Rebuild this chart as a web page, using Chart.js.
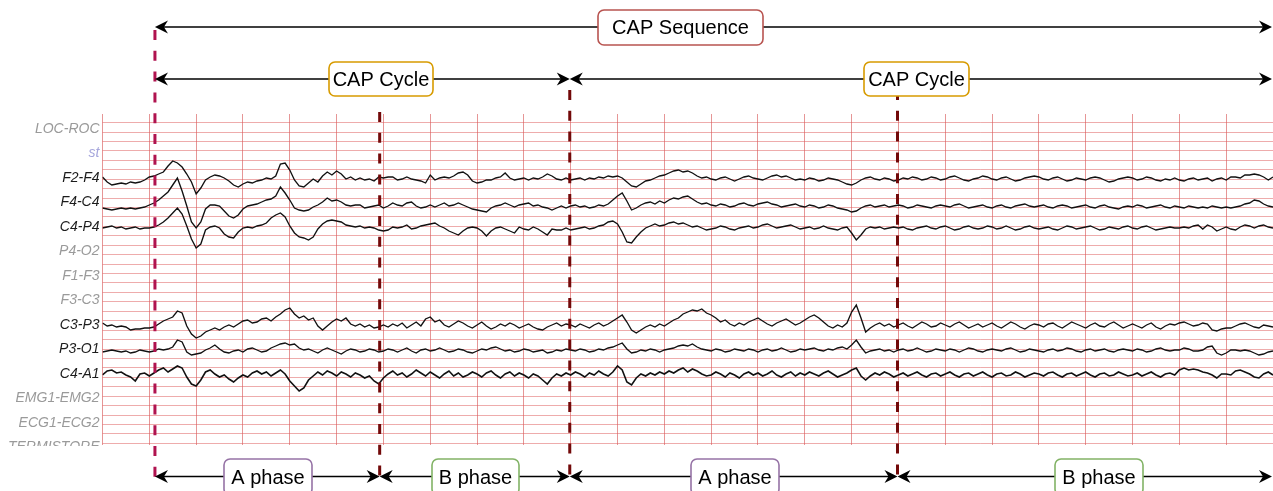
<!DOCTYPE html>
<html>
<head>
<meta charset="utf-8">
<title>CAP sequence</title>
<script src="https://cdn.jsdelivr.net/npm/chart.js@4.4.1/dist/chart.umd.min.js"></script>
<style>
  html, body { margin: 0; padding: 0; background: #fff; }
  #wrap { width: 1273px; height: 491px; position: relative; }
</style>
</head>
<body>
<div id="wrap"><canvas id="eegChart"></canvas></div>
<script>
// montage, top to bottom
const channels = ['LOC-ROC', 'st', 'F2-F4', 'F4-C4', 'C4-P4', 'P4-O2', 'F1-F3', 'F3-C3',
  'C3-P3', 'P3-O1', 'C4-A1', 'EMG1-EMG2', 'ECG1-ECG2', 'TERMISTORE'];
const activeChannels = ['F2-F4', 'F4-C4', 'C4-P4', 'C3-P3', 'P3-O1', 'C4-A1'];

const sampleStep = 0.1;     // s between samples
const rowSpacing = 245;     // µV between channel baselines
const pageSeconds = 25;

// deflection from baseline, µV, one sample every 0.1 s
const f2f4 = [
  10,-40,-70,-60,-50,-60,-40,-50,-40,-20,
  10,20,40,60,120,170,150,110,40,-40,
  -160,-100,-20,10,30,20,0,-30,-70,-90,
  -60,-40,-50,-30,-20,0,-10,20,140,150,
  80,-20,-80,-90,-50,-10,-40,20,60,30,
  70,40,-10,10,-20,0,-20,-10,-30,10,
  0,10,10,-20,-10,10,-10,-20,-30,-50,
  30,-20,0,10,0,20,50,60,30,-30,
  -50,-40,-20,-20,0,10,50,0,-20,-10,
  0,-20,0,-10,10,40,20,-10,-20,0,
  -20,-10,0,-20,0,-10,10,0,20,10,
  20,0,-40,-80,-90,-60,-30,-20,0,20,
  30,50,70,80,60,70,50,20,0,10,
  -10,-20,0,10,-10,-30,-10,10,20,0,
  -10,-20,0,20,30,10,20,0,-20,-10,
  -20,0,-10,-30,-20,0,-10,-20,-40,-60,
  -70,-50,-20,0,10,-10,-20,0,-10,-30,
  -20,0,-10,10,0,-20,-10,10,0,-20,
  -10,10,20,0,-20,-30,-10,0,20,10,
  -10,-20,0,10,-10,-30,-20,0,10,20,
  10,-10,-20,0,10,-10,-30,-20,0,-10,
  -20,0,10,0,-20,-40,-30,-10,0,10,
  0,-20,-10,10,0,-20,-30,-10,-20,0,
  -20,-30,-10,0,-20,-10,0,-30,-10,0,
  -20,10,10,0,30,30,40,30,10,-20,
  10
];
const f4c4 = [
  -55,-65,-75,-65,-55,-65,-55,-65,-55,-45,
  -25,-5,25,65,105,175,245,115,-35,-195,
  -255,-195,-65,-25,-25,-35,-85,-135,-155,-125,
  -65,-35,-25,-15,5,25,35,65,155,95,
  25,-55,-75,-85,-75,-45,-25,5,45,15,
  25,5,-25,-35,-25,-25,-55,-45,-35,-25,
  -55,-35,-5,-25,-35,-5,5,-35,-55,-45,
  -25,-45,-25,-5,-35,-25,-5,-25,-45,-65,
  -75,-85,-95,-55,-35,-25,-5,-25,-45,-25,
  -15,-5,-35,-25,-45,-55,-75,-55,-35,-55,
  -35,-25,-45,-35,-55,-45,-25,-35,-15,25,
  65,95,15,-75,-55,-25,-5,5,-15,15,
  -5,25,45,35,55,65,35,5,-15,-5,
  -25,-35,-15,-25,-45,-35,-15,-5,-25,-35,
  -15,-5,5,-15,-25,-45,-35,-25,-15,-35,
  -45,-25,-35,-55,-45,-25,-35,-55,-65,-75,
  -95,-85,-55,-35,-25,-45,-35,-25,-45,-35,
  -25,-35,-55,-45,-25,-35,-45,-55,-35,-25,
  -35,-45,-25,-15,-35,-55,-45,-35,-25,-45,
  -55,-35,-25,-45,-55,-35,-25,-15,-35,-45,
  -35,-25,-45,-55,-35,-25,-35,-55,-45,-35,
  -25,-45,-55,-35,-25,-45,-55,-65,-45,-35,
  -45,-25,-35,-55,-45,-35,-25,-45,-55,-35,
  -45,-55,-35,-45,-55,-45,-55,-35,-45,-55,
  -45,-55,-45,-35,-15,-5,25,15,-15,-35,
  -45
];
const c4p4 = [
  -10,0,10,-10,0,-20,-10,0,-20,-10,
  -10,0,20,50,90,140,190,130,10,-120,
  -210,-170,-30,0,10,-10,-70,-100,-110,-50,
  -10,0,-10,10,20,40,90,120,140,100,
  10,-60,-100,-110,-130,-100,-20,30,60,70,
  60,50,20,10,0,10,-10,0,-10,-30,
  -40,-30,0,-10,0,20,-20,-10,10,20,
  30,40,10,-10,-40,-60,-80,-40,-10,0,
  -10,-40,-90,-40,-10,0,-20,-40,-60,0,
  -20,-30,0,-20,-50,-80,-20,-30,-30,-10,
  -30,-20,-10,0,-20,-10,10,20,50,60,
  30,-50,-150,-160,-100,-50,-10,10,30,10,
  20,40,50,30,40,20,0,10,-10,-30,
  -20,-10,10,0,-20,-30,-10,0,10,-10,
  0,20,30,10,-10,0,10,20,0,-20,
  -10,0,-20,-10,10,-10,-20,-30,-10,0,
  -60,-130,-80,-20,0,-10,0,-20,-10,0,
  -10,0,-20,-30,-10,0,10,-10,-20,0,
  10,-10,-30,-20,0,10,-10,-20,-10,10,
  0,-20,-10,10,-10,-30,-20,0,10,-10,
  -20,-10,0,-20,-30,-10,10,0,-20,-10,
  0,10,-10,-30,-20,0,-10,-20,0,10,
  -10,-20,0,10,-10,-30,-20,-10,0,-10,
  -10,0,-10,10,20,-20,20,0,-40,-20,
  0,-20,-30,0,20,10,-10,10,20,0,
  -10
];
const c3p3 = [
  20,-10,0,-20,-10,-20,-50,-40,-40,-30,
  -30,-20,10,40,60,80,140,120,-10,-90,
  -130,-110,-70,-50,-30,-50,-20,0,-20,10,
  40,50,20,30,60,70,40,80,110,150,
  170,110,70,90,50,70,-10,-50,-10,30,
  60,40,70,10,-10,10,-20,0,-30,-20,
  0,-20,10,-10,20,-30,0,30,-10,60,
  80,30,50,0,-20,10,40,20,-10,-30,
  0,30,-10,-40,-20,10,-10,20,0,-30,
  -10,10,-20,-40,-50,-20,0,20,-10,10,
  0,-20,10,-10,-30,0,20,-10,10,40,
  70,100,30,-50,-80,-50,-20,0,-20,10,
  -10,20,50,70,110,130,150,140,160,120,
  100,70,30,50,10,-10,20,0,30,50,
  70,40,10,-10,20,40,60,30,0,20,
  50,80,100,70,30,-10,-30,0,-20,20,
  130,200,70,-70,-30,0,20,-10,10,-20,
  0,20,-10,-30,0,30,10,-20,-10,20,
  0,-20,10,30,0,-30,-10,10,-20,0,
  20,-10,-30,0,30,10,-20,-40,-10,10,
  0,-20,10,20,-10,-30,0,30,10,-10,
  -30,0,20,-10,-20,10,30,0,-30,-10,
  10,-10,-30,0,20,-20,-40,-10,10,0,
  20,30,10,-10,0,20,10,-50,-60,-40,
  -30,-30,-10,10,20,0,-20,-30,0,-10,
  -20
];
const p3o1 = [
  -25,-15,-5,-15,-25,-15,-35,-25,-5,-15,
  -25,-15,5,-5,5,25,95,75,-25,-55,
  -45,-35,-5,15,45,5,-25,-35,-15,-5,
  -25,5,15,-5,-25,-15,15,35,55,65,
  45,55,15,-5,5,-15,-35,-5,15,-5,
  -25,-45,-15,5,-5,-25,-15,5,-5,-25,
  -15,5,-5,-25,-5,15,-15,-35,-5,5,
  -15,-5,15,-5,-25,-15,5,-5,-25,-35,
  -15,5,-5,15,25,5,-15,-5,-25,-15,
  5,-5,-25,-15,-5,-35,-25,-5,-15,5,
  -5,-15,5,-5,-25,-15,5,-5,15,25,
  45,65,5,-35,-25,-5,-15,5,-5,-25,
  -5,5,15,35,45,35,55,25,5,-5,
  -15,5,-5,-25,-15,5,-5,-15,5,-5,
  -25,-5,5,-15,-5,15,-5,-25,-15,5,
  -5,5,15,-5,-15,5,-5,15,25,5,
  45,95,25,-35,-15,-5,5,-15,-5,-25,
  -5,5,-15,-5,15,-5,-25,-15,5,-5,
  -15,5,-5,-25,-5,15,5,-15,-25,-5,
  5,-5,-15,5,15,-5,-25,-15,5,-5,
  -15,-25,-5,5,-15,-5,15,5,-15,-25,
  -5,5,-15,-5,5,-15,-25,-5,5,-5,
  -15,5,-5,-25,-15,5,15,-5,-15,-5,
  -5,15,5,-15,-15,-5,25,35,-35,-55,
  -35,-5,-5,-15,-5,-15,-35,-55,-45,-25,
  -15
];
const c4a1 = [
  -10,30,40,10,20,-10,-30,-70,0,10,
  -20,10,40,60,20,50,80,60,-30,-100,
  -120,-60,20,40,0,-30,-10,-50,-80,-40,
  -10,-30,10,30,0,20,-20,10,40,0,
  -70,-120,-170,-140,-60,-20,20,-10,30,10,
  -20,20,0,-30,10,-10,-40,-20,-70,-100,
  -40,0,30,-10,10,-30,0,40,10,-20,
  20,-10,-40,0,30,-20,10,-30,-10,20,
  0,-30,10,30,-10,-40,0,20,-20,10,
  -10,-40,0,-20,-60,-100,-40,0,-20,10,
  -10,20,0,-30,10,-10,30,0,-20,20,
  80,40,-80,-110,-40,0,-20,10,-10,20,
  0,30,10,40,60,20,50,30,0,-20,
  -10,20,0,-30,10,-10,-40,0,20,-10,
  10,-20,0,30,-10,-30,0,20,-20,10,
  -10,20,0,-20,10,30,0,-30,-10,10,
  40,60,-20,-60,-20,10,-10,20,0,-30,
  -10,10,-20,0,20,-10,-30,0,10,-20,
  0,20,-10,-30,0,10,-20,0,20,-10,
  -30,0,10,-20,-10,20,0,-30,-10,10,
  0,-20,10,20,-10,-30,0,10,-20,0,
  20,-10,-30,0,10,-20,-10,20,0,-20,
  -10,10,-20,0,20,-10,-30,0,10,-10,
  40,60,40,50,40,20,10,-10,-40,0,
  0,-10,30,40,20,0,-30,-40,0,20,
  -10
];

// scored events (s): A1 onset, B1 onset, A2 onset, B2 onset
const markers = [1.12, 5.92, 9.98, 16.98];
const sequenceLabel = 'CAP Sequence';
const cycleLabels = ['CAP Cycle', 'CAP Cycle'];
const phaseLabels = ['A phase', 'B phase', 'A phase', 'B phase'];

const traces = [
  ['F2-F4', f2f4], ['F4-C4', f4c4], ['C4-P4', c4p4],
  ['C3-P3', c3p3], ['P3-O1', p3o1], ['C4-A1', c4a1]
];

const datasets = traces.map(([name, values]) => {
  const base = -rowSpacing * channels.indexOf(name);
  return {
    label: name,
    data: values.map((v, k) => ({ x: +(k * sampleStep).toFixed(1), y: base + v })),
    borderColor: '#111',
    borderWidth: name === 'C4-A1' ? 1.6 : 1.35,
    pointRadius: 0,
    tension: 0,
    yAxisID: 'ch'
  };
});

function arrowHead(ctx, x, y, dir) {
  ctx.beginPath();
  ctx.moveTo(x, y);
  ctx.lineTo(x - dir * 13, y - 6.5);
  ctx.lineTo(x - dir * 9, y);
  ctx.lineTo(x - dir * 13, y + 6.5);
  ctx.closePath();
  ctx.fill();
}

function span(ctx, x1, x2, y) {
  ctx.beginPath();
  ctx.moveTo(x1 + 4, y);
  ctx.lineTo(x2 - 4, y);
  ctx.stroke();
  arrowHead(ctx, x1, y, -1);
  arrowHead(ctx, x2, y, 1);
}

function labelBox(ctx, text, cx, cy, w, h, color) {
  ctx.beginPath();
  ctx.roundRect(cx - w / 2, cy - h / 2, w, h, 6);
  ctx.fillStyle = '#fff';
  ctx.fill();
  ctx.lineWidth = 1.6;
  ctx.strokeStyle = color;
  ctx.stroke();
  ctx.fillStyle = '#000';
  ctx.fillText(text, cx, cy + 1);
}

const capOverlay = {
  id: 'capOverlay',
  afterDatasetsDraw(chart) {
    const { ctx, scales: { x } } = chart;
    const tops = [30, 112, 90, 90];
    ctx.save();
    ctx.lineWidth = 3;
    ctx.setLineDash([10, 10.8]);
    markers.forEach((t, i) => {
      const px = x.getPixelForValue(t);
      ctx.strokeStyle = i === 0 ? '#b0134f' : '#720909';
      ctx.beginPath();
      ctx.moveTo(px, tops[i]);
      ctx.lineTo(px, 478);
      ctx.stroke();
    });
    ctx.restore();
  },
  afterDraw(chart) {
    const { ctx, scales: { x } } = chart;
    const m = markers.map(t => x.getPixelForValue(t));
    const end = x.getPixelForValue(pageSeconds) - 1;
    ctx.save();
    // last montage label runs off the bottom of the page
    ctx.fillStyle = '#fff';
    ctx.fillRect(0, 446, 101, 12);

    ctx.strokeStyle = '#000';
    ctx.fillStyle = '#000';
    ctx.lineWidth = 1.6;
    span(ctx, m[0], end, 27);
    span(ctx, m[0], m[2], 79);
    span(ctx, m[2], end, 79);
    span(ctx, m[0], m[1], 476.5);
    span(ctx, m[1], m[2], 476.5);
    span(ctx, m[2], m[3], 476.5);
    span(ctx, m[3], end, 476.5);

    ctx.font = '20px "Liberation Sans", Arial, sans-serif';
    ctx.textAlign = 'center';
    ctx.textBaseline = 'middle';
    labelBox(ctx, sequenceLabel, 680.5, 27.5, 165, 35, '#b85450');
    labelBox(ctx, cycleLabels[0], 381, 79, 104, 34, '#d79b00');
    labelBox(ctx, cycleLabels[1], 916.5, 79, 105, 34, '#d79b00');
    labelBox(ctx, phaseLabels[0], 268, 477, 88, 36, '#9673a6');
    labelBox(ctx, phaseLabels[1], 475.5, 477, 87, 36, '#82b366');
    labelBox(ctx, phaseLabels[2], 735, 477, 88, 36, '#9673a6');
    labelBox(ctx, phaseLabels[3], 1099, 477, 88, 36, '#82b366');
    ctx.restore();
  }
};

new Chart(document.getElementById('eegChart'), {
  type: 'line',
  data: { datasets },
  options: {
    responsive: true,
    maintainAspectRatio: false,
    animation: false,
    events: [],
    layout: { padding: { top: 114, bottom: 46, left: 0, right: 0 } },
    plugins: { legend: { display: false }, tooltip: { enabled: false } },
    scales: {
      x: {
        type: 'linear',
        min: 0,
        max: pageSeconds,
        afterBuildTicks: s => { s.ticks = Array.from({ length: pageSeconds + 1 }, (_, i) => ({ value: i })); },
        afterFit: s => { s.height = 0; },
        ticks: { display: false },
        border: { display: false },
        grid: { color: 'rgba(214,80,80,0.6)', lineWidth: 1, drawTicks: false }
      },
      ch: {
        type: 'linear',
        position: 'left',
        min: -3160,
        max: 150,
        afterBuildTicks: s => { s.ticks = channels.map((_, i) => ({ value: -rowSpacing * i })); },
        afterFit: s => { s.width = 102.5; },
        ticks: {
          autoSkip: false,
          padding: 3,
          callback: (v, i) => channels[i],
          color: c => {
            const name = channels[c.index];
            if (name === 'st') return '#a6a6dc';
            return activeChannels.includes(name) ? '#1c1c1c' : '#9a9a9a';
          },
          font: { family: '"Liberation Sans", Arial, sans-serif', size: 14, style: 'italic' }
        },
        border: { display: false },
        grid: { display: false, drawTicks: false }
      },
      rows: {
        type: 'linear',
        position: 'right',
        reverse: true,
        min: -0.92,
        max: 34.18,
        afterBuildTicks: s => { s.ticks = Array.from({ length: 35 }, (_, i) => ({ value: i })); },
        afterFit: s => { s.width = 0; },
        ticks: { display: false },
        border: { display: false },
        grid: { color: 'rgba(222,90,90,0.5)', lineWidth: 1, drawTicks: false }
      }
    }
  },
  plugins: [capOverlay]
});
</script>
</body>
</html>
